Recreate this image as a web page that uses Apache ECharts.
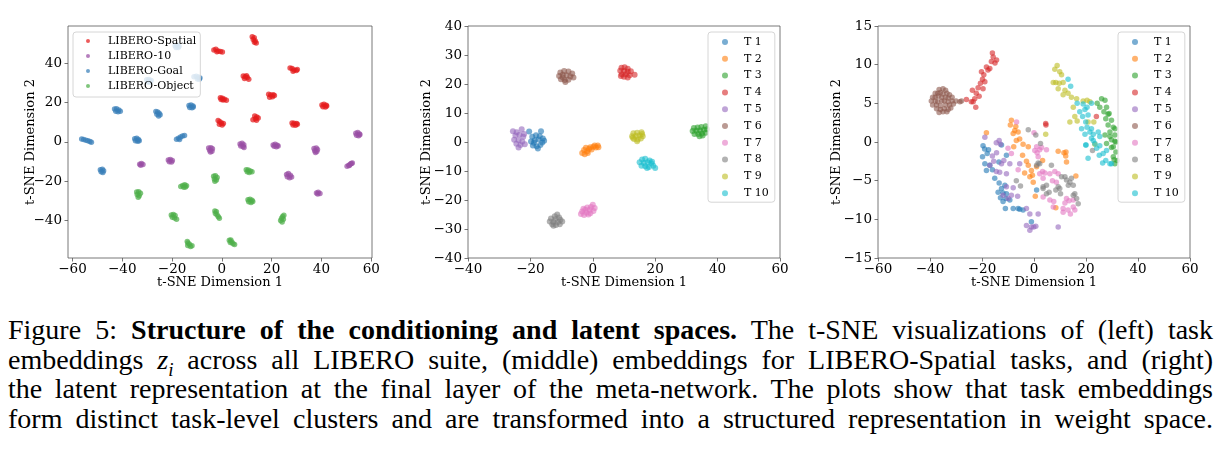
<!DOCTYPE html>
<html>
<head>
<meta charset="utf-8">
<script src="https://cdn.jsdelivr.net/npm/echarts@6/dist/echarts.min.js"></script>
<style>
  html, body { margin: 0; padding: 0; background: #fff; }
  #chart { position: absolute; left: 0; top: 0; width: 1222px; height: 300px; }
  #cap {
    position: absolute; left: 8px; top: 315px; width: 1205px;
    font-family: "Liberation Serif", serif; font-size: 25px; line-height: 29.5px; color: #000;
  }
  .ln { text-align: justify; text-align-last: justify; }
  .ln sub { font-size: 0.68em; line-height: 0; }
</style>
</head>
<body>
<div id="chart"></div>
<div id="cap">
  <div class="ln">Figure 5: <b>Structure of the conditioning and latent spaces.</b> The t-SNE visualizations of (left) task</div>
  <div class="ln">embeddings <i>z</i><sub><i>i</i></sub> across all LIBERO suite, (middle) embeddings for LIBERO-Spatial tasks, and (right)</div>
  <div class="ln">the latent representation at the final layer of the meta-network. The plots show that task embeddings</div>
  <div class="ln">form distinct task-level clusters and are transformed into a structured representation in weight space.</div>
</div>
<script>
// ---------- left: task embeddings for all LIBERO suites ----------
var suiteNames = ["LIBERO-Spatial", "LIBERO-10", "LIBERO-Goal", "LIBERO-Object"];
var suiteColors = ["#e41a1c", "#984ea3", "#377eb8", "#4daf4a"];

var spatialPts = [
  [-3.2,46.8],[-2.4,47.2],[-1.5,46.3],[-0.6,46.0],[-2.0,45.9],[0.2,45.8],
  [12.2,53.5],[13.0,53.0],[12.6,52.1],[13.4,51.4],[13.8,50.3],[13.1,50.7],
  [27.4,37.6],[28.2,37.3],[29.0,36.6],[29.9,36.3],[28.6,36.0],[30.3,36.8],
  [8.6,33.5],[9.4,33.2],[10.2,32.8],[9.1,32.3],[10.8,31.9],[9.9,33.7],
  [18.8,24.2],[19.6,23.8],[20.6,24.0],[19.2,22.7],[20.3,22.9],[21.1,23.6],
  [40.2,18.8],[41.0,19.1],[41.9,18.6],[40.6,17.8],[41.6,17.7],[42.1,18.3],
  [-0.6,22.4],[0.2,22.2],[1.0,21.7],[0.5,21.3],[1.8,21.2],[-0.3,21.6],
  [13.2,13.2],[14.0,12.6],[13.5,11.8],[12.5,11.2],[13.9,11.0],[14.6,12.1],
  [-1.5,10.8],[-0.8,10.2],[-0.2,9.6],[-1.0,9.0],[0.1,8.6],[0.6,9.3],
  [28.2,9.6],[29.0,9.4],[30.0,9.3],[28.6,8.6],[29.6,8.4],[30.3,8.9]
];
var libero10Pts = [
  [-5.3,-3.2],[-4.4,-3.0],[-3.8,-3.6],[-4.9,-4.3],[-4.0,-4.8],[-4.6,-5.2],
  [7.3,-1.1],[8.1,-0.8],[8.8,-1.5],[7.6,-2.1],[8.5,-2.4],[8.9,-2.9],
  [20.6,-1.6],[21.4,-1.3],[22.2,-1.8],[21.0,-2.3],[21.9,-2.5],[22.6,-2.1],
  [37.0,-3.4],[37.9,-3.1],[38.4,-3.9],[37.3,-4.6],[38.1,-5.0],[37.6,-5.4],
  [53.8,4.4],[54.6,4.7],[55.3,4.0],[54.1,3.4],[54.9,3.1],[55.4,3.6],
  [50.3,-12.4],[51.0,-11.9],[51.7,-11.3],[52.4,-10.8],[51.2,-12.1],[52.0,-11.0],
  [26.0,-16.6],[26.7,-16.2],[27.5,-17.0],[26.3,-17.8],[27.2,-18.3],[28.0,-17.9],
  [38.0,-26.1],[38.7,-25.7],[39.4,-26.3],[38.5,-26.6],
  [-33.0,-11.4],[-32.3,-11.1],[-31.7,-11.6],[-32.6,-11.9],
  [-21.5,-9.3],[-20.7,-9.0],[-19.9,-9.5],[-21.1,-10.1],[-20.2,-10.3]
];
var goalPts = [
  [-18.8,49.0],[-18.0,49.3],[-17.2,48.7],[-18.4,48.1],[-17.5,48.0],
  [-30.2,31.6],[-29.3,31.8],[-28.4,31.2],[-29.8,30.5],[-28.8,30.4],
  [-11.2,33.2],[-10.3,33.4],[-9.4,33.0],[-8.8,32.5],[-9.8,32.0],[-9.1,31.9],
  [-13.2,18.5],[-12.4,18.8],[-11.6,18.2],[-12.9,17.5],[-12.0,17.3],[-11.5,17.7],
  [-43.1,16.7],[-42.3,16.9],[-41.4,16.2],[-42.6,15.6],[-41.7,15.3],[-40.8,15.6],
  [-26.5,15.5],[-25.8,15.2],[-25.2,14.5],[-26.1,14.0],[-25.4,13.2],[-24.8,13.8],
  [-56.3,1.4],[-55.5,1.2],[-54.6,0.8],[-53.8,0.5],[-53.0,0.1],[-52.4,-0.2],
  [-35.0,1.6],[-34.2,1.8],[-33.5,1.2],[-34.7,0.6],[-33.8,0.3],[-33.2,0.5],
  [-18.2,1.3],[-17.4,1.8],[-16.6,2.4],[-15.8,2.9],[-15.0,3.2],[-17.0,1.2],
  [-48.8,-14.2],[-48.0,-14.0],[-47.5,-14.7],[-48.5,-15.3],[-47.8,-15.6]
];
var objectPts = [
  [-34.2,-25.6],[-33.4,-25.4],[-32.7,-26.2],[-34.0,-26.9],[-33.2,-27.5],[-33.6,-28.3],
  [-16.5,-22.8],[-15.7,-22.2],[-14.9,-21.9],[-14.2,-22.4],[-15.3,-23.1],[-14.6,-23.0],
  [-3.3,-17.6],[-2.6,-17.3],[-1.9,-18.2],[-3.0,-18.9],[-2.2,-19.4],[-2.8,-20.1],
  [9.8,-14.2],[10.6,-14.4],[11.4,-14.9],[10.2,-15.3],[11.0,-15.6],[12.1,-15.3],
  [10.5,-29.5],[11.3,-29.3],[12.1,-29.8],[10.8,-30.6],[11.7,-30.9],[12.4,-30.4],
  [-2.8,-35.2],[-2.2,-35.6],[-2.6,-36.5],[-1.9,-37.3],[-1.4,-38.2],[-1.0,-38.9],
  [-20.3,-37.3],[-19.5,-37.0],[-18.8,-37.6],[-19.9,-38.4],[-19.0,-38.8],[-18.2,-39.4],
  [24.9,-37.4],[24.4,-38.1],[24.0,-39.0],[24.7,-39.5],[23.6,-40.1],[24.2,-40.8],
  [-13.9,-50.8],[-13.6,-51.6],[-13.0,-52.2],[-13.7,-52.8],[-12.6,-53.4],[-12.0,-53.0],
  [3.0,-50.2],[3.6,-50.0],[4.0,-51.0],[3.4,-51.3],[4.5,-52.0],[5.1,-52.3]
];

// ---------- middle: LIBERO-Spatial task embeddings ----------
var taskNames = ["T 1","T 2","T 3","T 4","T 5","T 6","T 7","T 8","T 9","T 10"];
var taskColors = ["#1f77b4","#ff7f0e","#2ca02c","#d62728","#9467bd","#8c564b","#e377c2","#7f7f7f","#bcbd22","#17becf"];

var midT1 = [[-20.4,3.6],[-16.6,3.7],[-19.4,1.8],[-18.2,2.3],[-17.0,2.0],[-16.0,1.2],[-19.8,0.2],[-18.6,0.6],[-17.4,0.9],[-16.2,-0.2],[-19.2,-1.2],[-18.0,-1.5],[-16.8,-1.0],[-17.6,-2.2],[-15.6,0.4],[-18.9,-0.3]];
var midT2 = [[-3.4,-3.8],[-2.6,-4.2],[-2.8,-2.8],[-1.8,-3.2],[-1.2,-2.3],[-0.4,-2.6],[0.2,-1.6],[1.0,-1.9],[1.6,-1.2],[-2.2,-2.0],[0.6,-1.2],[-0.8,-1.8],[1.8,-1.8],[-1.6,-3.8]];
var midT3 = [[32.4,4.8],[33.6,5.0],[34.8,5.2],[36.2,5.4],[32.0,3.8],[33.2,3.9],[34.4,4.0],[35.6,4.2],[36.6,4.4],[32.6,2.8],[33.8,2.8],[35.0,2.9],[36.2,3.2],[34.2,2.0],[35.2,2.2]];
var midT4 = [[9.2,25.6],[10.2,25.8],[11.2,25.3],[8.8,24.6],[10.0,24.5],[11.2,24.2],[12.2,24.4],[9.3,23.4],[10.6,23.4],[11.8,23.0],[13.4,23.2],[10.0,22.5],[11.2,22.2],[9.0,22.8]];
var midT5 = [[-25.6,3.7],[-24.4,3.4],[-22.8,4.4],[-23.5,2.5],[-24.8,2.2],[-22.3,1.8],[-25.2,0.8],[-23.8,0.6],[-22.6,0.2],[-24.5,-0.6],[-23.2,-1.0],[-21.8,-0.8],[-23.8,-1.9],[-22.0,2.8]];
var midT6 = [[-10.4,24.0],[-9.2,24.5],[-7.8,24.3],[-6.6,23.6],[-10.8,22.8],[-9.6,23.2],[-8.4,23.0],[-7.2,22.6],[-6.2,22.2],[-10.2,21.6],[-9.0,21.4],[-7.8,21.5],[-8.8,20.7],[-9.6,22.2]];
var midT7 = [[0.0,-21.6],[-0.6,-22.4],[0.6,-22.8],[-1.8,-22.6],[-2.4,-23.4],[-1.0,-23.4],[0.2,-23.8],[-3.4,-24.0],[-2.0,-24.4],[-0.8,-24.6],[-3.8,-24.8],[-2.8,-25.2],[-1.4,-25.0],[-3.0,-23.0]];
var midT8 = [[-11.4,-25.0],[-12.2,-25.6],[-10.8,-26.0],[-13.4,-26.4],[-12.0,-26.6],[-10.4,-26.8],[-13.8,-27.4],[-12.6,-27.6],[-11.2,-27.6],[-9.8,-27.4],[-13.0,-28.4],[-11.8,-28.6],[-10.6,-28.4],[-12.6,-28.9]];
var midT9 = [[13.0,3.0],[14.2,3.2],[15.6,3.4],[12.6,2.0],[13.8,2.1],[15.0,2.2],[16.0,2.0],[13.2,1.0],[14.4,0.9],[15.4,1.2],[14.2,0.3],[12.8,1.5],[15.8,2.8]];
var midT10 = [[15.8,-6.0],[16.8,-5.8],[18.2,-6.4],[15.0,-7.0],[16.4,-7.2],[17.6,-7.0],[18.8,-7.4],[15.6,-8.2],[16.8,-8.4],[18.0,-8.6],[19.4,-8.2],[20.0,-9.0],[17.4,-9.0],[19.0,-6.8]];

// ---------- right: latent representation at final meta-network layer ----------
var latT1 = [[-19.6,-0.5],[-18.0,-1.5],[-19.8,-1.9],[-18.9,-2.8],[-17.0,-3.0],[-18.3,-3.7],[-16.0,-3.6],[-15.1,-4.7],[-13.4,-5.3],[-12.5,-6.0],[-13.8,-6.5],[-11.9,-6.6],[-12.9,-7.2],[-10.8,-7.3],[-11.2,-5.6],[-10.6,-6.7],[-9.3,-7.5],[-11.9,-7.7],[-11.0,-8.6],[-8.0,-8.6],[-6.1,-8.6],[-4.2,-8.8],[-5.5,-8.7],[-1.0,-10.3],[1.0,-6.2],[-10.6,-1.7],[-12.5,-0.4],[-13.5,-2.6],[-17.5,-1.0],[-19.0,-0.9]];
var latT2 = [[-8.7,2.8],[-9.1,2.2],[-7.4,1.5],[-8.0,1.1],[-6.1,1.3],[-18.3,1.2],[-6.8,0.2],[-7.8,-0.6],[-4.2,-0.3],[-2.2,-0.6],[-4.4,-1.7],[-2.9,-2.5],[-2.2,-3.0],[-1.0,-3.7],[-1.6,-4.5],[-0.3,-5.2],[9.3,-1.2],[12.3,-1.3],[12.5,-2.6],[11.5,-1.4],[16.1,-4.4],[0.5,-7.0],[8.4,-8.5],[1.0,-3.2],[-5.5,0.4],[-7.0,2.0],[3.3,-2.4],[-3.6,-4.0],[-0.6,-4.3],[12.2,-1.8]];
var latT3 = [[26.0,5.6],[27.3,5.4],[24.3,5.0],[25.3,4.5],[27.9,4.5],[26.9,3.9],[28.9,3.7],[27.6,3.0],[29.8,2.8],[28.5,2.2],[30.5,1.9],[29.2,1.3],[31.1,0.9],[29.8,0.3],[31.5,0.0],[30.5,-0.6],[28.5,3.6],[31.1,1.7],[29.2,0.7],[31.1,0.1],[29.8,-0.7],[31.5,-1.3],[30.5,-1.9],[32.0,-2.4],[31.1,-2.8],[27.9,-0.2],[27.3,0.9],[30.8,-2.3]];
var latT4 = [[-26.0,5.5],[-24.1,5.2],[-23.4,5.2],[-22.4,4.5],[-23.7,6.7],[-22.2,6.3],[-21.5,7.0],[-20.6,7.6],[-19.8,8.1],[-20.2,9.1],[-19.3,8.7],[-18.9,7.8],[-18.3,9.7],[-17.0,9.5],[-16.4,10.4],[-15.7,11.0],[-16.0,11.5],[-15.0,10.2],[-14.4,10.6],[-17.7,9.3],[-21.1,5.9],[-22.8,5.6],[-19.6,6.9],[4.5,2.4],[4.6,2.2],[24.0,3.3]];
var latT5 = [[-18.9,0.6],[-14.5,-0.1],[-12.9,-0.3],[-13.4,0.2],[-16.0,-1.8],[-14.4,-1.4],[-12.5,-2.8],[-11.6,-2.4],[-14.5,-3.8],[-13.2,-3.9],[-17.0,-3.0],[-10.6,-4.1],[-9.3,-2.8],[-8.0,-5.9],[-10.6,-5.8],[-11.9,-6.9],[-9.9,-7.3],[-8.7,-6.9],[-6.3,-7.0],[-2.9,-8.6],[-1.6,-9.3],[-2.9,-10.8],[-1.6,-11.4],[-0.1,-11.0],[-1.0,-11.0],[0.7,-10.9],[1.6,-9.3],[9.3,-11.0],[-5.5,-2.8],[-15.5,-2.5]];
var latT6 = [[-36.5,6.8],[-35.0,6.9],[-34.0,6.7],[-38.0,6.3],[-37.0,6.3],[-36.0,6.4],[-35.0,6.2],[-33.5,6.3],[-32.5,6.1],[-39.0,5.8],[-38.0,5.8],[-36.8,5.9],[-35.5,5.8],[-34.0,5.8],[-33.0,5.7],[-31.5,5.8],[-39.5,5.3],[-38.0,5.3],[-37.0,5.2],[-35.5,5.3],[-34.5,5.3],[-33.0,5.2],[-31.5,5.3],[-30.0,5.3],[-28.5,5.2],[-39.0,4.8],[-37.5,4.8],[-36.0,4.7],[-34.0,4.8],[-32.5,4.8],[-31.0,4.9],[-37.5,4.3],[-36.0,4.2],[-34.5,4.3],[-33.0,4.2],[-32.0,4.4],[-36.5,3.8],[-35.0,3.9],[-33.5,3.9],[-27.9,5.3]];
var latT7 = [[-6.7,2.6],[-10.0,-0.8],[-8.7,-1.5],[1.0,-0.6],[0.3,-1.1],[1.2,-1.4],[2.2,-1.0],[1.6,-1.9],[2.9,-0.7],[4.8,-1.0],[0.0,1.2],[2.2,-4.1],[4.2,-4.0],[3.3,-3.8],[6.1,-4.1],[8.0,-3.8],[9.3,-4.1],[3.5,-4.7],[7.1,-5.0],[8.6,-5.2],[3.5,-7.1],[6.1,-7.5],[7.6,-7.7],[7.4,-8.4],[12.5,-7.3],[13.5,-7.6],[15.1,-7.5],[11.2,-8.6],[13.1,-8.8],[15.1,-8.4],[14.0,-9.3],[15.7,-8.8],[11.9,-7.9],[11.2,-9.1],[-6.1,-3.6]];
var latT8 = [[-2.2,1.6],[0.7,0.9],[2.5,-0.2],[1.6,-2.7],[2.2,-2.8],[1.0,-3.0],[-6.8,-5.0],[-5.2,-5.7],[3.5,-5.8],[4.8,-5.6],[3.5,-6.0],[5.8,-6.5],[4.8,-6.7],[8.4,-6.2],[9.3,-5.8],[9.9,-6.0],[10.2,-6.7],[6.7,-3.0],[10.6,-4.5],[11.9,-4.5],[12.5,-4.9],[14.4,-4.7],[13.8,-5.2],[13.2,-5.6],[15.1,-5.6],[15.7,-6.7],[15.1,-6.9],[16.4,-7.3],[17.0,-8.0],[22.5,-1.1]];
var latT9 = [[8.9,9.9],[8.0,9.4],[9.9,9.1],[10.6,8.7],[8.4,7.7],[9.7,7.6],[11.2,7.7],[9.3,6.9],[11.9,6.7],[13.1,6.3],[14.4,5.8],[16.4,5.6],[18.9,5.3],[20.4,5.4],[15.1,4.5],[15.7,3.3],[13.8,2.6],[16.6,2.7],[4.5,1.0],[11.2,6.1],[7.4,7.7],[21.5,5.2],[23.0,2.6],[23.4,-0.3],[20.8,2.6]];
var latT10 = [[13.1,8.1],[14.1,7.2],[16.6,5.0],[18.9,4.9],[17.6,3.9],[19.6,4.2],[20.4,4.5],[18.7,3.3],[20.8,3.5],[19.9,2.6],[22.1,5.0],[18.3,1.7],[20.4,1.9],[21.5,1.3],[22.8,1.0],[19.6,1.0],[22.1,0.5],[24.7,1.3],[25.3,0.7],[23.4,-0.2],[25.3,-0.5],[19.9,-0.4],[20.8,-2.1],[22.8,0.2],[24.1,-0.8],[25.1,-1.7],[26.6,-1.5],[26.4,-2.7],[27.6,-2.4],[27.9,-1.1],[22.1,1.7],[29.8,-2.8],[29.2,-2.8],[20.0,-0.4]];

var midData = [midT1, midT2, midT3, midT4, midT5, midT6, midT7, midT8, midT9, midT10];
var latData = [latT1, latT2, latT3, latT4, latT5, latT6, latT7, latT8, latT9, latT10];

var serif = "DejaVu Serif";
var spine = "#555";

function fmt(v) { return v < 0 ? "\u2212" + (-v) : String(v); }

function axisCfg(dim, grid, min, max, ticks) {
  var a = {
    type: "value", gridIndex: grid, min: min, max: max,
    name: dim === "x" ? "t-SNE Dimension 1" : "t-SNE Dimension 2",
    nameLocation: "middle", nameGap: dim === "x" ? 18 : 35, nameMoveOverlap: false,
    nameTextStyle: { fontFamily: serif, fontSize: 13, color: "#000" },
    axisLine: { show: false, onZero: false },
    axisTick: { show: true, inside: false, length: 3.5, lineStyle: { color: spine, width: 0.8 } },
    axisLabel: { fontFamily: serif, fontSize: 13.5, color: "#000", margin: dim === "x" ? 4 : 6,
                 formatter: fmt, showMinLabel: true, showMaxLabel: true },
    splitLine: { show: false }
  };
  if (dim === "y") a.nameRotate = 90;
  if (ticks) { a.axisTick.customValues = ticks; a.axisLabel.customValues = ticks; }
  return a;
}

var series = [];
[spatialPts, libero10Pts, goalPts, objectPts].forEach(function (pts, i) {
  series.push({
    type: "scatter", name: suiteNames[i], xAxisIndex: 0, yAxisIndex: 0,
    data: pts, symbolSize: 5.5, itemStyle: { color: suiteColors[i], opacity: 0.72 }
  });
});
midData.forEach(function (pts, i) {
  series.push({
    type: "scatter", name: taskNames[i], xAxisIndex: 1, yAxisIndex: 1,
    data: pts, symbolSize: 6, itemStyle: { color: taskColors[i], opacity: 0.6 }
  });
});
latData.forEach(function (pts, i) {
  series.push({
    type: "scatter", name: taskNames[i], xAxisIndex: 2, yAxisIndex: 2,
    data: pts, symbolSize: 5.5, itemStyle: { color: taskColors[i], opacity: 0.6 }
  });
});

// marker is drawn in an iconSize x iconSize box; text is pushed right with padding
function legendCfg(left, names, iconSize, gap, pad, textShift) {
  return {
    orient: "vertical", left: left, top: 32, data: names,
    icon: "circle", itemWidth: iconSize, itemHeight: iconSize, itemGap: gap,
    padding: pad, backgroundColor: "rgba(255,255,255,0.8)",
    borderColor: "#d6d6d6", borderWidth: 1, borderRadius: 3,
    textStyle: { fontFamily: serif, fontSize: 11, color: "#000", lineHeight: 12, padding: [0, 0, 0, textShift] },
    selectedMode: false, z: 10
  };
}

var chart = echarts.init(document.getElementById("chart"), null, { renderer: "canvas" });
chart.setOption({
  animation: false,
  backgroundColor: "#fff",
  grid: [
    { left: 68, top: 26, width: 304, height: 232, show: true, borderColor: spine, borderWidth: 0.8 },
    { left: 468, top: 26, width: 312, height: 232, show: true, borderColor: spine, borderWidth: 0.8 },
    { left: 878, top: 26, width: 312, height: 232, show: true, borderColor: spine, borderWidth: 0.8 }
  ],
  xAxis: [
    axisCfg("x", 0, -61.8, 60.3, [-60, -40, -20, 0, 20, 40, 60]),
    Object.assign(axisCfg("x", 1, -40, 60), { interval: 20 }),
    Object.assign(axisCfg("x", 2, -60, 60), { interval: 20 })
  ],
  yAxis: [
    Object.assign(axisCfg("y", 0, -59.2, 59, [-40, -20, 0, 20, 40]), { nameGap: 31 }),
    Object.assign(axisCfg("y", 1, -40, 40), { interval: 10 }),
    Object.assign(axisCfg("y", 2, -15, 15), { interval: 5 })
  ],
  legend: [
    legendCfg(73, suiteNames, 4, 3, [3, 4, 5, 13], 13),
    legendCfg(708, taskNames, 6, 4.8, [4, 6, 3, 14], 11),
    legendCfg(1118, taskNames, 6, 4.8, [4, 6, 3, 14], 11)
  ],
  series: series
});

// caption: pick a font size so the longest line just fills the justified width
(function () {
  var cap = document.getElementById("cap");
  var lines = cap.querySelectorAll(".ln");
  var widest = 0;
  lines.forEach(function (ln) {
    ln.style.display = "inline-block";
    ln.style.whiteSpace = "nowrap";
    widest = Math.max(widest, ln.getBoundingClientRect().width);
    ln.style.display = "";
    ln.style.whiteSpace = "";
  });
  var size = Math.min(28, 25 * 1198 / widest);
  cap.style.fontSize = size.toFixed(2) + "px";
})();
</script>
</body>
</html>
